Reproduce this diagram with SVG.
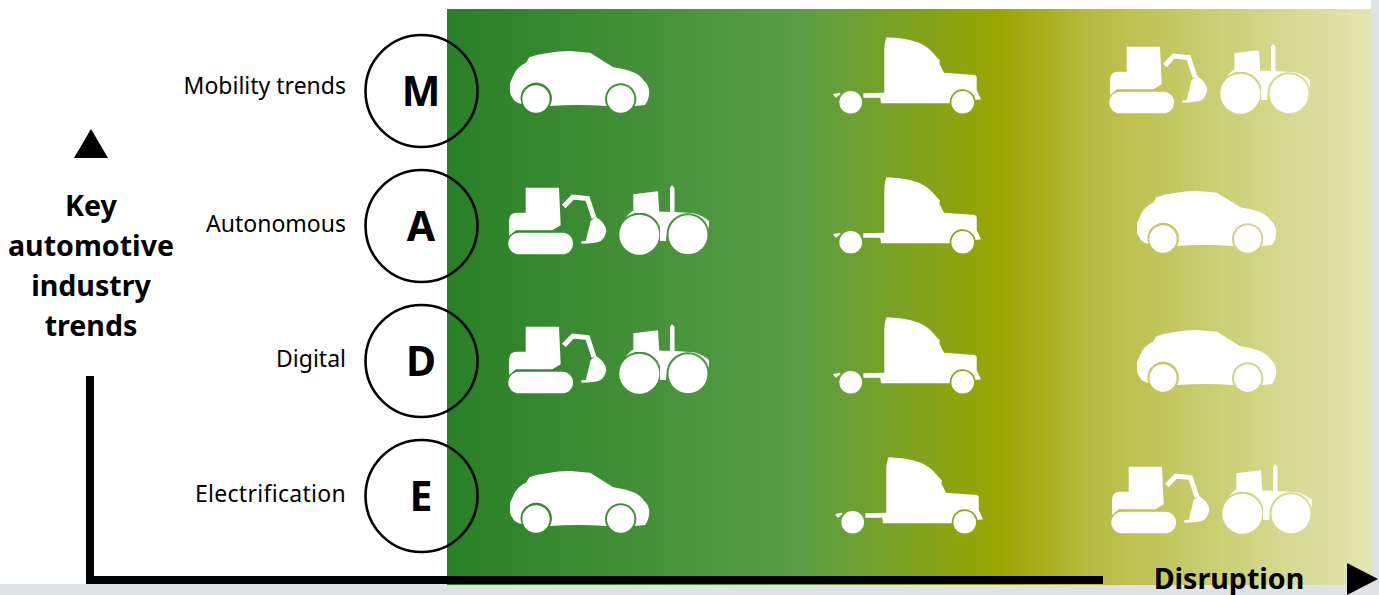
<svg xmlns="http://www.w3.org/2000/svg" xmlns:xlink="http://www.w3.org/1999/xlink" width="1379" height="595" viewBox="0 0 1379 595">
<style>
text{font-family:"Noto Sans","Open Sans","Liberation Sans",sans-serif;fill:#000}
.lbl{font-size:23px;text-anchor:end}
.big{font-size:28.6px;font-weight:700;text-anchor:middle}
.ltr{font-size:41px;font-weight:700;text-anchor:middle}
.ring{fill:none;stroke:#000;stroke-width:2.6}
.w{fill:#fff}
.arm{fill:none;stroke:#fff;stroke-width:5}
.axis{fill:none;stroke:#000;stroke-width:8}
</style>
<defs>
<linearGradient id="g" gradientUnits="userSpaceOnUse" x1="447" y1="0" x2="1371" y2="0">
<stop offset="0" stop-color="#288027"/>
<stop offset="0.38" stop-color="#5a9e47"/>
<stop offset="0.6" stop-color="#9ba600"/>
<stop offset="0.7" stop-color="#b7bc42"/>
<stop offset="1" stop-color="#e3e6b2"/>
</linearGradient>
<g id="car">
<path class="w" d="M510,83L515,72Q519,66 526,62.7L529.3,57.3Q537,54.5 546.7,53.3Q558,51 570,51L590,52.7L613.3,67.3Q625,69 633.3,72.3Q640,75 643.3,80Q649,85 649.3,91.7Q649,100 645,105L634.7,106A15.7,15.7 0 1 0 606.7,106Q578,104 550,106A15.7,15.7 0 1 0 521.6,104Q514,102 512.7,98Q510,95 510,91.7Z"/>
<circle class="w" cx="536" cy="99" r="13.7"/><circle class="w" cx="620.7" cy="99" r="13.7"/>
</g>
<g id="truck">
<path class="w" d="M886.7,37.3L900,38.3Q912,40 920,43.3Q928,47 933.3,53.3L940,60.7L939.3,63.5L944,72.7L975,75L976.7,76.7L976.7,90L981,99.3L975.5,100A13,13 0 0 0 949.74,103.3L881,103.3L880.3,97.7L863.3,97.7L863.3,93.3L884.3,92.7L884.3,50Q884.5,41 886.7,37.3Z"/>
<path class="w" d="M833.3,94L840,92.7Q842,93 836,97.7Q834,97 833.3,94Z"/>
<circle class="w" cx="850.7" cy="102.3" r="11.3"/><circle class="w" cx="962.7" cy="102.3" r="11.3"/>
</g>
<g id="mach">
<path class="w" d="M1126.7,46.7L1160,46.7L1161.7,84.3L1153.3,89.3L1117,89.3L1110,95L1110,80Q1110,71.7 1118,71.7L1126.7,71.7Z"/>
<rect class="w" x="1109.3" y="91.7" width="64.7" height="21.6" rx="10.8"/>
<path class="arm" d="M1164.8,65.5L1173.8,56L1188.5,57.5L1195,77"/>
<path class="w" d="M1196.7,75.7Q1207,82 1207.3,90Q1206,97 1201.7,100Q1196,102.7 1182.3,102.7L1182.3,100.3L1186.7,100L1191.7,80Z"/>
<path class="w" d="M1234.3,53.3L1259,50.3L1260.3,72L1234.3,72Z"/>
<rect class="w" x="1271" y="47" width="4.5" height="26"/>
<path class="w" d="M1271,47L1273,44L1275.5,47Z"/>
<path class="w" d="M1226.3,76.7L1233,70L1276,71L1295,72.3Q1304,75 1310,80L1309.7,88A21.5,21.5 0 0 0 1267.8,90L1267,100L1261,100L1261,86A22,22 0 0 0 1226.3,76.7Z"/>
<circle class="w" cx="1240.3" cy="93.7" r="20"/><circle class="w" cx="1289" cy="93.7" r="19.5"/>
</g>
</defs>
<rect width="1379" height="595" fill="#fff"/>
<path fill="#e0e3e6" d="M1371,0H1379V595H0V584H1371Z"/>
<rect x="447" y="9" width="924.5" height="576" fill="url(#g)"/>
<g id="connectors">
<path class="axis" d="M90,376V580H1103"/>
<path id="arrow-up" d="M74,158L108,158L91,129Z"/>
<path id="arrow-right" d="M1347,563L1378,579L1347,595Z"/>
</g>
<g id="node-mobility">
<text class="lbl" x="346" y="94">Mobility trends</text>
<circle class="ring" cx="421.5" cy="91" r="56"/><text class="ltr" x="421" y="106">M</text>
<use xlink:href="#car"/><use xlink:href="#truck"/><use xlink:href="#mach"/>
</g>
<g id="node-autonomous">
<text class="lbl" x="346" y="232">Autonomous</text>
<circle class="ring" cx="421.5" cy="226" r="56"/><text class="ltr" x="421" y="241">A</text>
<use xlink:href="#mach" transform="translate(-601,141)"/><use xlink:href="#truck" transform="translate(0,140)"/><use xlink:href="#car" transform="translate(627,140)"/>
</g>
<g id="node-digital">
<text class="lbl" x="346" y="367">Digital</text>
<circle class="ring" cx="421.5" cy="361" r="56"/><text class="ltr" x="421" y="376">D</text>
<use xlink:href="#mach" transform="translate(-601,280)"/><use xlink:href="#truck" transform="translate(0,280)"/><use xlink:href="#car" transform="translate(627,279)"/>
</g>
<g id="node-electrification">
<text class="lbl" x="346" y="502" letter-spacing="0.3">Electrification</text>
<circle class="ring" cx="421.5" cy="496" r="56"/><text class="ltr" x="421" y="511">E</text>
<use xlink:href="#car" transform="translate(0,420)"/><use xlink:href="#truck" transform="translate(2,420)"/><use xlink:href="#mach" transform="translate(2,420)"/>
</g>
<g id="node-y-title">
<text class="big" x="91" y="216">Key</text>
<text class="big" x="91" y="256">automotive</text>
<text class="big" x="91" y="296">industry</text>
<text class="big" x="91" y="336">trends</text>
</g>
<g id="node-x-title"><text class="big" x="1229" y="589">Disruption</text></g>
</svg>
